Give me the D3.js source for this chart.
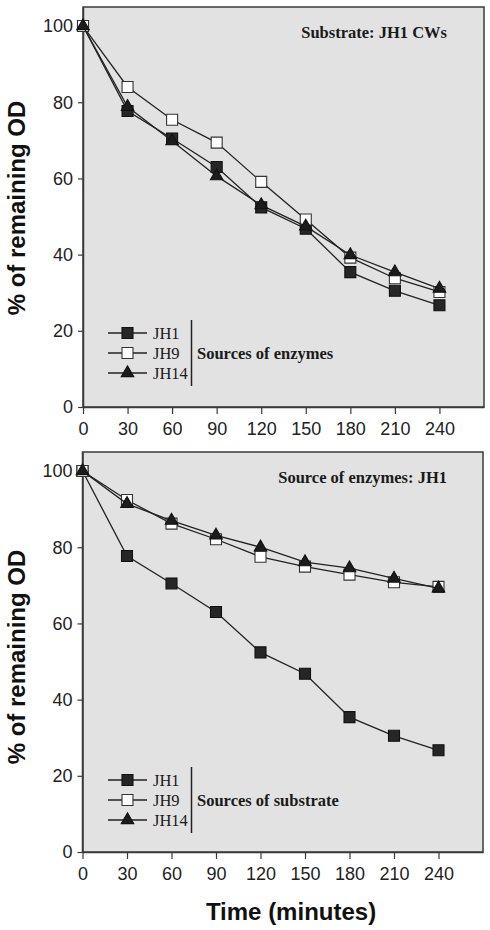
<!DOCTYPE html>
<html>
<head>
<meta charset="utf-8">
<script src="https://cdn.jsdelivr.net/npm/d3@7"></script>
<style>
  html, body { margin: 0; padding: 0; background: #fff; }
  svg { display: block; }
</style>
</head>
<body>
<svg id="chart" width="490" height="930"></svg>
<script>
// ---- data ----
const times = [0, 30, 60, 90, 120, 150, 180, 210, 240];
const xTicks = [0, 30, 60, 90, 120, 150, 180, 210, 240];
const yTicks = [0, 20, 40, 60, 80, 100];
const seriesNames = ["JH1", "JH9", "JH14"];

// top panel: substrate JH1 CWs, enzymes from different sources
const topJH1  = [100, 77.7, 70.5, 63.0, 52.4, 46.8, 35.4, 30.5, 26.7];
const topJH9  = [100, 84.0, 75.4, 69.4, 59.1, 49.2, 39.2, 33.8, 30.2];
const topJH14 = [100, 78.8, 69.8, 60.6, 53.0, 47.4, 39.9, 35.4, 31.1];

// bottom panel: enzymes from JH1, different substrates
const botJH1  = [100, 77.7, 70.5, 63.0, 52.4, 46.8, 35.4, 30.5, 26.7];
const botJH9  = [100, 92.4, 86.2, 82.1, 77.5, 74.9, 72.8, 70.8, 69.6];
const botJH14 = [100, 91.4, 87.0, 83.1, 80.0, 76.1, 74.5, 71.8, 69.2];

const yLabel = "% of remaining OD";
const xLabel = "Time (minutes)";
const topNote = "Substrate: JH1 CWs";
const botNote = "Source of enzymes: JH1";
const topLegendTitle = "Sources of enzymes";
const botLegendTitle = "Sources of substrate";

// ---- layout ----
const svg = d3.select("#chart");
const panels = [
  { top: 7, bottom: 407, left: 83, right: 484, series: [topJH1, topJH9, topJH14],
    note: topNote, legendTitle: topLegendTitle, legendY: 333, labelY: 208 },
  { top: 452, bottom: 852, left: 82.5, right: 483, series: [botJH1, botJH9, botJH14],
    note: botNote, legendTitle: botLegendTitle, legendY: 780, labelY: 657 }
];

const sansFont = "'Liberation Sans', Arial, sans-serif";
const serifFont = "'Liberation Serif', 'Times New Roman', serif";
const styles = [
  { shape: "square", fill: "#262626", stroke: "#111" },
  { shape: "square", fill: "#ffffff", stroke: "#333" },
  { shape: "triangle", fill: "#1c1c1c", stroke: "#111" }
];

function symbolPath(shape) {
  return shape === "square"
    ? d3.symbol().type(d3.symbolSquare).size(121)()
    : d3.symbol().type(d3.symbolTriangle).size(68)();
}

panels.forEach(p => {
  const x = d3.scaleLinear().domain([0, 270]).range([p.left, p.right]);
  const y = d3.scaleLinear().domain([0, 105]).range([p.bottom, p.top]);
  const g = svg.append("g");

  // plot background
  g.append("rect")
    .attr("x", x(0)).attr("y", y(105))
    .attr("width", x(270) - x(0)).attr("height", y(0) - y(105))
    .attr("fill", "#e2e2e2")
    .attr("stroke", "#3a3a3a").attr("stroke-width", 1.5);

  // axes
  const yAxis = g.append("g")
    .attr("transform", `translate(${x(0)},0)`)
    .call(d3.axisLeft(y).tickValues(yTicks).tickSize(5).tickPadding(5).tickSizeOuter(0));
  const xAxis = g.append("g")
    .attr("transform", `translate(0,${y(0)})`)
    .call(d3.axisBottom(x).tickValues(xTicks).tickSize(7).tickPadding(8).tickSizeOuter(0));
  [yAxis, xAxis].forEach(a => {
    a.select(".domain").attr("stroke", "#3a3a3a").attr("stroke-width", 1.5);
    a.selectAll(".tick line").attr("stroke", "#3a3a3a").attr("stroke-width", 1.2);
    a.selectAll(".tick text").attr("font-family", sansFont).attr("font-size", 18).attr("fill", "#222");
  });

  // series
  const line = d3.line().x((d, i) => x(times[i])).y(d => y(d));
  p.series.forEach((vals, si) => {
    const st = styles[si];
    g.append("path").datum(vals)
      .attr("d", line).attr("fill", "none")
      .attr("stroke", "#222").attr("stroke-width", 1.3);
    g.selectAll(null).data(vals).enter().append("path")
      .attr("d", symbolPath(st.shape))
      .attr("transform", (d, i) => `translate(${x(times[i])},${y(d)})`)
      .attr("fill", st.fill).attr("stroke", st.stroke).attr("stroke-width", 1.1);
  });

  // note
  g.append("text")
    .attr("x", 447).attr("y", p.top + 31)
    .attr("text-anchor", "end")
    .attr("font-family", serifFont).attr("font-weight", "bold").attr("font-size", 16.5)
    .attr("fill", "#1a1a1a")
    .text(p.note);

  // legend
  seriesNames.forEach((name, i) => {
    const ly = p.legendY + i * 20;
    const st = styles[i];
    g.append("line").attr("x1", 108).attr("x2", 147).attr("y1", ly).attr("y2", ly)
      .attr("stroke", "#222").attr("stroke-width", 1.3);
    g.append("path").attr("d", symbolPath(st.shape))
      .attr("transform", `translate(127.5,${ly})`)
      .attr("fill", st.fill).attr("stroke", st.stroke).attr("stroke-width", 1.1);
    g.append("text").attr("x", 153).attr("y", ly).attr("dy", "0.35em")
      .attr("font-family", serifFont).attr("font-size", 16.5).attr("fill", "#1a1a1a")
      .text(name);
  });
  g.append("line").attr("x1", 191.5).attr("x2", 191.5)
    .attr("y1", p.legendY - 13).attr("y2", p.legendY + 53)
    .attr("stroke", "#222").attr("stroke-width", 1.5);
  g.append("text").attr("x", 197).attr("y", p.legendY + 20).attr("dy", "0.35em")
    .attr("font-family", serifFont).attr("font-weight", "bold").attr("font-size", 16.5)
    .attr("fill", "#1a1a1a")
    .text(p.legendTitle);

  // y label
  g.append("text")
    .attr("transform", `translate(25,${p.labelY}) rotate(-90)`)
    .attr("text-anchor", "middle")
    .attr("font-family", sansFont).attr("font-weight", "bold").attr("font-size", 24)
    .attr("fill", "#111")
    .text(yLabel);
});

// x label
svg.append("text")
  .attr("x", 291).attr("y", 920)
  .attr("text-anchor", "middle")
  .attr("font-family", sansFont).attr("font-weight", "bold").attr("font-size", 24)
  .attr("fill", "#111")
  .text(xLabel);
</script>
</body>
</html>
